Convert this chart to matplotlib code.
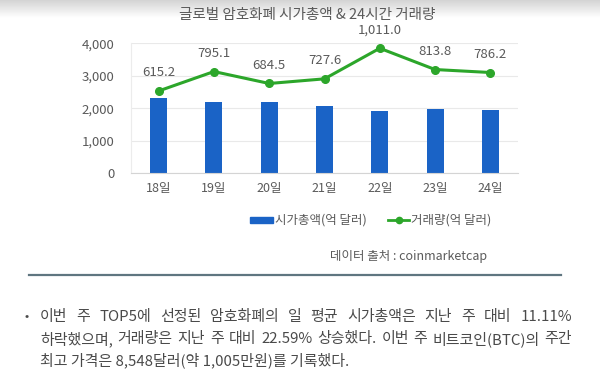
import numpy as np
import matplotlib.pyplot as plt

plt.rcParams['font.family'] = ['Noto Sans CJK KR', 'DejaVu Sans']

days = ['18일', '19일', '20일', '21일', '22일', '23일', '24일']
market_cap = [2317, 2194, 2194, 2062, 1926, 1978, 1938]
volume = [615.2, 795.1, 684.5, 727.6, 1011.0, 813.8, 786.2]

title = '글로벌 암호화폐 시가총액 & 24시간 거래량'
legend_labels = ['시가총액(억 달러)', '거래량(억 달러)']
source = '데이터 출처 : coinmarketcap'
body_lines = [
    '이번 주 TOP5에 선정된 암호화폐의 일 평균 시가총액은 지난 주 대비 11.11%',
    '하락했으며, 거래량은 지난 주 대비 22.59% 상승했다. 이번 주 비트코인(BTC)의 주간',
    '최고 가격은 8,548달러(약 1,005만원)를 기록했다.',
]

W, H = 600, 391
BLUE = '#1a63c6'
GREEN = '#2ca62a'
GREY = '#5a5a5a'

fig = plt.figure(figsize=(W / 100, H / 100), dpi=100)

# soft shadow band at the top
bg = fig.add_axes([0, 1 - 18 / H, 1, 18 / H], zorder=-5)
grad = np.linspace(0.83, 1.0, 50).reshape(-1, 1)
bg.imshow(grad, aspect='auto', cmap='gray', vmin=0, vmax=1, extent=[0, 1, 0, 1])
bg.axis('off')

ax = fig.add_axes([131 / W, (H - 173.3) / H, 387 / W, 130 / H])
x = np.arange(len(days))
ax.bar(x, market_cap, width=0.31, color=BLUE, zorder=2)
ax.set_xlim(-0.5, len(days) - 0.5)
ax.set_ylim(0, 4000)
ax.set_yticks(range(0, 4001, 1000))
ax.set_yticklabels([f'{v:,}' for v in range(0, 4001, 1000)])
ax.set_xticks(x)
ax.set_xticklabels(days)
ax.grid(axis='y', color='#e9e9e9', linewidth=0.8, zorder=0)
for s in ['top', 'right']:
    ax.spines[s].set_visible(False)
ax.spines['left'].set_color('#ececec')
ax.spines['bottom'].set_color('#d4d4d4')
ax.tick_params(axis='y', length=0, pad=12, labelsize=9.5, labelcolor=GREY)
ax.tick_params(axis='x', length=0, pad=6, labelsize=9, labelcolor=GREY)

ax2 = ax.twinx()
ax2.plot(x, volume, color=GREEN, linewidth=2.2, marker='o', markersize=5.5, zorder=3)
ax2.set_ylim(-148, 1057)
ax2.axis('off')
for xi, v in zip(x, volume):
    ax2.annotate(f'{v:,.1f}', (xi, v), xytext=(0, 13), textcoords='offset points',
                 ha='center', va='center', fontsize=9.5, color=GREY)

fig.text(307 / W, 1 - 15 / H, title, ha='center', va='center', fontsize=10.5, color=GREY)

# legend drawn by hand
leg_y = 1 - 220 / H
fig.patches.append(plt.Rectangle((250 / W, leg_y - 3 / H), 23 / W, 6 / H,
                                 transform=fig.transFigure, color=BLUE))
fig.text(275 / W, leg_y, legend_labels[0], ha='left', va='center', fontsize=9, color=GREY)
fig.lines.append(plt.Line2D([388 / W, 409 / W], [leg_y, leg_y], transform=fig.transFigure,
                            color=GREEN, linewidth=2))
fig.lines.append(plt.Line2D([398.5 / W], [leg_y], transform=fig.transFigure,
                            color=GREEN, marker='o', markersize=4.5))
fig.text(411 / W, leg_y, legend_labels[1], ha='left', va='center', fontsize=9, color=GREY)

fig.text(487 / W, 1 - 256.5 / H, source, ha='right', va='center', fontsize=9, color=GREY)

# divider
fig.lines.append(plt.Line2D([29 / W, 561 / W], [1 - 275 / H, 1 - 275 / H],
                            transform=fig.transFigure, color='#5f7680', linewidth=1.6))

# bullet paragraph, first two lines justified
TEXT = '#4a4a4a'
left, right = 40, 572
line_ys = [316.7, 339, 360.5]
fig.text(27 / W, 1 - line_ys[0] / H, '•', ha='center', va='center', fontsize=9, color=TEXT)
renderer = fig.canvas.get_renderer()
for i, (line, yy) in enumerate(zip(body_lines, line_ys)):
    yf = 1 - yy / H
    if i == len(body_lines) - 1:
        fig.text(left / W, yf, line, ha='left', va='center', fontsize=10.8, color=TEXT)
        continue
    words = line.split(' ')
    texts = [fig.text(0, yf, w, ha='left', va='center', fontsize=10.8, color=TEXT) for w in words]
    widths = [t.get_window_extent(renderer).width for t in texts]
    gap = (right - left - sum(widths)) / (len(words) - 1)
    pos = left
    for t, w in zip(texts, widths):
        t.set_x(pos / W)
        pos += w + gap

fig.savefig('out.png', dpi=100, facecolor='white')
